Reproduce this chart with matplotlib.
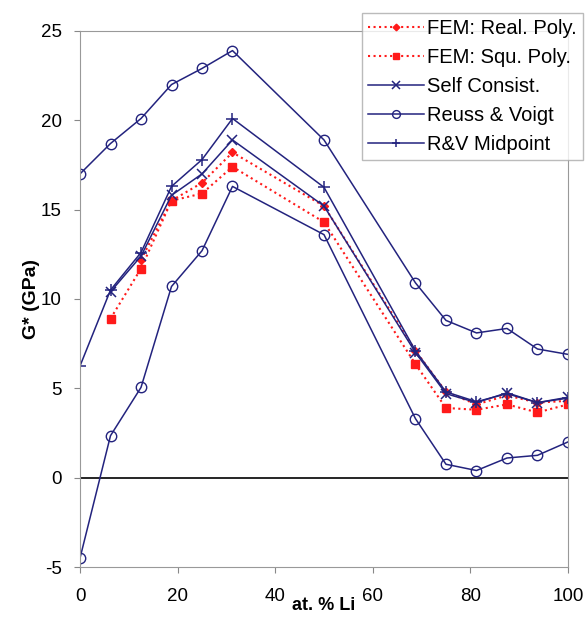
import matplotlib
matplotlib.use("Agg")
import matplotlib.pyplot as plt

plt.rcParams['font.family'] = ['Liberation Sans', 'DejaVu Sans']
plt.rcParams['axes.unicode_minus'] = False

x_all = [0, 6.25, 12.5, 18.75, 25, 31.25, 50, 68.75, 75, 81.25, 87.5, 93.75, 100]
x_fem_real = [12.5, 18.75, 25, 31.25, 50, 68.75, 75, 81.25, 87.5, 93.75, 100]
x_fem_squ = [6.25, 12.5, 18.75, 25, 31.25, 50, 68.75, 75, 81.25, 87.5, 93.75, 100]
x_self = [6.25, 12.5, 18.75, 25, 31.25, 50, 68.75, 75, 81.25, 87.5, 93.75, 100]

fem_real = [12.2, 15.5, 16.5, 18.2, 15.2, 7.1, 4.8, 4.1, 4.6, 4.2, 4.3]
fem_squ = [8.9, 11.7, 15.5, 15.9, 17.4, 14.3, 6.35, 3.9, 3.8, 4.1, 3.65, 4.1]
self_consist = [10.4, 12.4, 15.8, 17.0, 18.9, 15.2, 7.0, 4.7, 4.2, 4.75, 4.2, 4.5]
voigt = [17.0, 18.7, 20.1, 22.0, 22.9, 23.9, 18.9, 10.9, 8.8, 8.1, 8.35, 7.2, 6.9]
reuss = [-4.5, 2.35, 5.05, 10.7, 12.7, 16.3, 13.6, 3.3, 0.75, 0.4, 1.1, 1.25, 2.0]
midpoint = [6.25, 10.5, 12.6, 16.3, 17.8, 20.1, 16.25, 7.1, 4.8, 4.25, 4.7, 4.2, 4.45]

navy = '#23237e'
red = '#ff1a1a'

fig = plt.figure(figsize=(5.87, 6.19), dpi=100)
ax = fig.add_axes([0.1363, 0.084, 0.8313, 0.866])

ax.axhline(0, color='black', lw=1.2)

ax.plot(x_fem_real, fem_real, ':', color=red, lw=1.5, marker='D', ms=4.5,
        label='FEM: Real. Poly.')
ax.plot(x_fem_squ, fem_squ, ':', color=red, lw=1.5, marker='s', ms=5.5,
        label='FEM: Squ. Poly.')
ax.plot(x_self, self_consist, '-', color=navy, lw=1.1, marker='x', ms=7,
        mew=1.1, label='Self Consist.')
ax.plot(x_all, voigt, '-', color=navy, lw=1.1, marker='o', ms=7.5,
        mfc='none', mew=1.0, label='Reuss & Voigt')
ax.plot(x_all, reuss, '-', color=navy, lw=1.1, marker='o', ms=7.5,
        mfc='none', mew=1.0)
ax.plot(x_all, midpoint, '-', color=navy, lw=1.1, marker='+', ms=8,
        mew=1.1, label='R&V Midpoint')

ax.set_xlim(0, 100)
ax.set_ylim(-5, 25)
ax.set_xticks([0, 20, 40, 60, 80, 100])
ax.set_yticks([-5, 0, 5, 10, 15, 20, 25])
ax.tick_params(labelsize=13.5, length=4, color='#888888')
ax.tick_params(axis='x', pad=11)
ax.tick_params(axis='y', pad=9)
for s in ax.spines.values():
    s.set_color('#999999')

ax.set_xlabel('at. % Li', fontsize=13, fontweight='bold', labelpad=-6)
ax.set_ylabel('G* (GPa)', fontsize=14, fontweight='bold', labelpad=1)

leg = fig.legend(loc='upper right', bbox_to_anchor=(0.9932, 0.979),
                 fontsize=14.5, frameon=True, fancybox=False,
                 handlelength=2.8, handletextpad=0.15, borderpad=0.3,
                 labelspacing=0.5, borderaxespad=0, markerscale=0.75)
leg.get_frame().set_edgecolor('#aaaaaa')
leg.get_frame().set_linewidth(1.0)

fig.savefig('out.png', dpi=100)
